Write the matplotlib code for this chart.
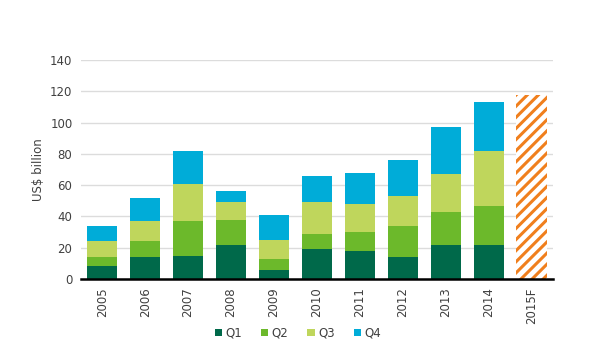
import numpy as np
import matplotlib.pyplot as plt

plt.rcParams['hatch.linewidth'] = 2.2

years = ['2005', '2006', '2007', '2008', '2009', '2010', '2011', '2012', '2013', '2014']
q1 = [8, 14, 15, 22, 6, 19, 18, 14, 22, 22]
q2 = [6, 10, 22, 16, 7, 10, 12, 20, 21, 25]
q3 = [10, 13, 24, 11, 12, 20, 18, 19, 24, 35]
q4 = [10, 15, 21, 7, 16, 17, 20, 23, 30, 31]
forecast_label = '2015F'
forecast_value = 117.5

colors = ['#00694a', '#6cb92b', '#bfd65c', '#00acd8']
labels = ['Q1', 'Q2', 'Q3', 'Q4']

fig = plt.figure(figsize=(6.03, 3.64), dpi=100)
ax = fig.add_axes([0.134, 0.2335, 0.783, 0.6015])

x = np.arange(len(years))
width = 0.7
bottom = np.zeros(len(years))
for vals, c, lab in zip([q1, q2, q3, q4], colors, labels):
    ax.bar(x, vals, width, bottom=bottom, color=c, label=lab, zorder=2)
    bottom += np.array(vals)

ax.bar(len(years), forecast_value, width, facecolor='white', edgecolor='#f07f1d',
       linewidth=0, hatch='///', zorder=2)

ax.set_xlim(-0.5, len(years) + 0.5)
ax.set_ylim(0, 140)
ax.set_yticks(np.arange(0, 141, 20))
ax.set_xticks(np.arange(len(years) + 1))
ax.set_xticklabels(years + [forecast_label], rotation=90)
ax.grid(axis='y', color='#dcdcdc', linewidth=1, zorder=0)
ax.tick_params(length=0, labelsize=8.5, colors='#404040', pad=6)

for s in ['top', 'right', 'left']:
    ax.spines[s].set_visible(False)
ax.spines['bottom'].set_color('black')
ax.spines['bottom'].set_linewidth(1.8)
ax.spines['bottom'].set_zorder(3)

ax.set_ylabel('US$ billion', fontsize=8.5, color='#404040', labelpad=4)

ax.legend(loc='upper center', bbox_to_anchor=(0.46, -0.17), ncol=4, frameon=False,
          fontsize=8.5, handlelength=0.6, handleheight=0.6, handletextpad=0.3,
          columnspacing=1.6, labelcolor='#404040')

fig.savefig('out.png', dpi=100)
